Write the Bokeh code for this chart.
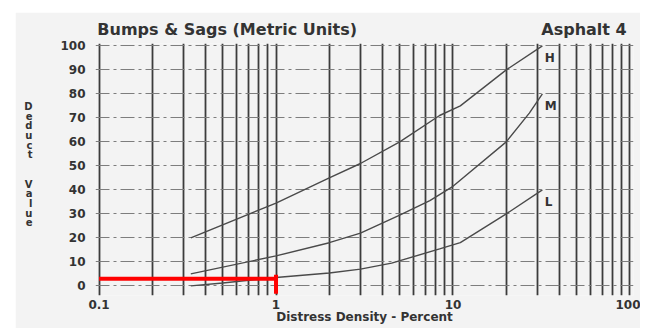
from bokeh.plotting import figure
from bokeh.models import FixedTicker, Range1d, LogAxis
from bokeh.core.properties import value
from bokeh.embed import file_html
from bokeh.resources import INLINE

# ---- data ----
h_x = [0.33, 1, 2, 3, 5, 8.4, 11, 20, 32]
h_y = [20, 34.5, 45, 51, 60, 71, 75, 90, 100]

m_x = [0.33, 1, 2, 3, 5, 7.4, 10, 20, 27, 32]
m_y = [5, 12.5, 18, 22, 29.5, 35.5, 41.5, 60, 72, 80]

l_x = [0.33, 0.5, 1, 2, 3, 4.5, 8.4, 11, 20, 32]
l_y = [0, 1.2, 3.5, 5.4, 7, 9.5, 15.4, 18, 30, 40]

curve_labels = ["H", "M", "L"]
curve_label_x = [33, 33, 33]
curve_label_y = [95, 75, 35]

# red reading marks
red_h_x = [0.1, 1]
red_h_y = [3, 3]
red_v_x = [1, 1]
red_v_y = [-3.3, 4.6]

x_tick_vals = [0.1, 1, 10, 100]
x_tick_labels = ["0.1", "1", "10", "100"]
y_tick_vals = [0, 10, 20, 30, 40, 50, 60, 70, 80, 90, 100]

title_text = "Bumps & Sags (Metric Units)"
subtitle_text = "Asphalt 4"
# x positions (on the log axis) where the two heading texts are centred
heading_pos = [0.53, 55]
x_label = "Distress Density - Percent"
y_label_words = ["Deduct", "Value"]

FONT = "DejaVu Sans"
BG = "#f3f3f3"
TXT = "#333333"

x_minor = [m * d for d in (0.1, 1, 10) for m in range(2, 10)]

p = figure(width=625, height=316, x_axis_type="log",
           x_range=Range1d(10 ** -1.02, 10 ** 2.02), y_range=Range1d(-4, 101),
           output_backend="svg", toolbar_location=None,
           min_border_left=80, min_border_right=7,
           min_border_top=31, min_border_bottom=33)
p.margin = (12, 0, 0, 15)
p.background_fill_color = BG
p.border_fill_color = BG
p.outline_line_color = None

bottom = p.below[0]
left = p.left[0]

# headings as labels of a top axis
top = LogAxis(ticker=FixedTicker(ticks=heading_pos),
              major_label_overrides={heading_pos[0]: title_text,
                                     heading_pos[1]: subtitle_text})
p.add_layout(top, "above")

# axes
bottom.ticker = FixedTicker(ticks=x_tick_vals, minor_ticks=x_minor)
bottom.major_label_overrides = {v: s for v, s in zip(x_tick_vals, x_tick_labels)}
left.ticker = FixedTicker(ticks=y_tick_vals)
for ax in (bottom, left, top):
    ax.axis_line_color = None
    ax.major_tick_line_color = None
    ax.minor_tick_line_color = None
    ax.major_label_text_font = FONT
    ax.major_label_text_font_style = "bold"
    ax.major_label_text_font_size = "12px"
    ax.major_label_text_color = TXT
    ax.axis_label_text_font = FONT
    ax.axis_label_text_font_style = "bold"
    ax.axis_label_text_color = TXT
    ax.major_tick_out = 0
    ax.major_tick_in = 0

top.major_label_text_font_size = "16px"
top.major_label_standoff = 5

bottom.major_label_standoff = 0
bottom.axis_label = x_label
bottom.axis_label_standoff = -2
bottom.axis_label_text_font_size = "12px"

left.major_label_standoff = 10
left.axis_label = ("\n".join(list(y_label_words[0])) + "\n\n\n"
                   + "\n".join(list(y_label_words[1])) + "\n")
left.axis_label_orientation = "horizontal"
left.axis_label_text_font_size = "10px"
left.axis_label_text_line_height = 0.88
left.axis_label_standoff = 25

# grids
p.xgrid.grid_line_color = "#3c3c3c"
p.xgrid.grid_line_width = 1.8
p.xgrid.minor_grid_line_color = "#3c3c3c"
p.xgrid.minor_grid_line_width = 1.8
p.ygrid.grid_line_color = "#7d7d7d"
p.ygrid.grid_line_width = 1.2
p.ygrid.grid_line_dash = "14 4 3 4"

# curves
for xs, ys in ((h_x, h_y), (m_x, m_y), (l_x, l_y)):
    p.line(xs, ys, line_color="#4a4a4a", line_width=1.4)

p.text(x=curve_label_x, y=curve_label_y, text=curve_labels,
       text_font=value(FONT), text_font_style="bold", text_font_size="12px",
       text_color=TXT, text_align="left", text_baseline="middle")

# red marks
p.line(red_h_x, red_h_y, line_color="#ff0000", line_width=4)
p.line(red_v_x, red_v_y, line_color="#ff0000", line_width=4)

open("out.html", "w").write(file_html(p, INLINE))
